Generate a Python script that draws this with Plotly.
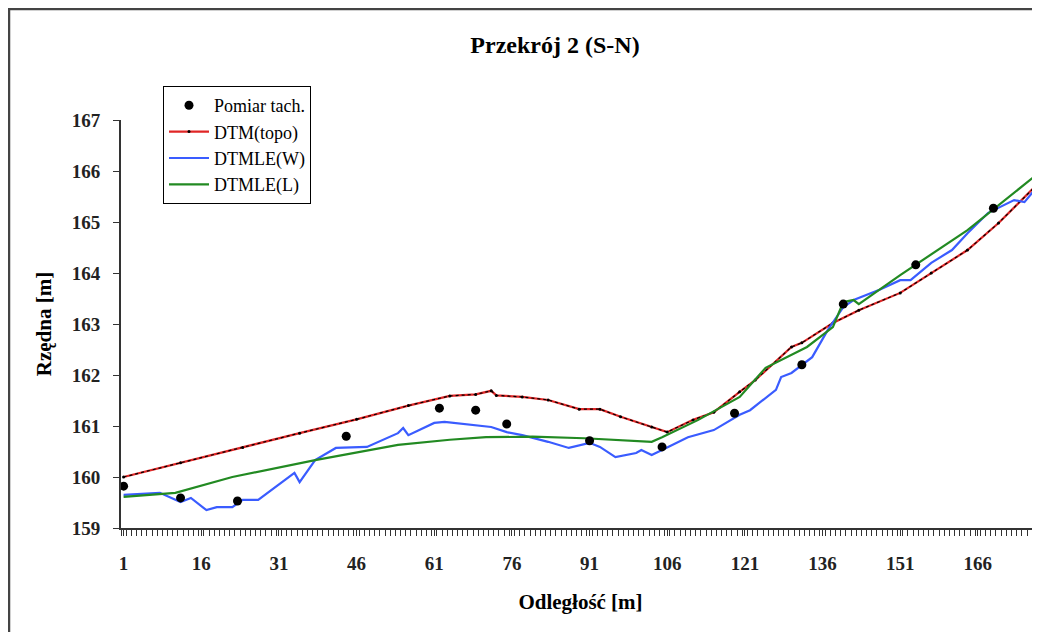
import plotly.graph_objects as go

# ---- data ----
meas_x = [1, 12, 23, 44, 62, 69, 75, 91, 105, 119, 132, 140, 154, 169]
meas_y = [159.82, 159.59, 159.53, 160.80, 161.35, 161.31, 161.04, 160.71, 160.59,
          161.25, 162.20, 163.39, 164.16, 165.27]

topo_x = [1, 12, 24, 35, 46, 56, 64, 69, 72, 73, 78, 83, 89, 93, 97, 103, 106,
          111, 115, 120, 123, 130, 132, 138, 143, 151, 157, 164, 170, 177, 178]
topo_y = [160.00, 160.28, 160.58, 160.86, 161.13, 161.40, 161.59, 161.62, 161.69,
          161.60, 161.57, 161.51, 161.33, 161.33, 161.18, 160.98, 160.88, 161.12,
          161.27, 161.67, 161.90, 162.55, 162.63, 163.02, 163.27, 163.61, 164.00,
          164.45, 164.98, 165.69, 165.86]

lew_x = [1, 8, 12, 14, 17, 19, 22, 24, 27, 34, 35, 38, 42, 48, 54, 55, 56, 61, 63,
         68, 72, 75, 78, 83, 87, 91, 93, 96, 100, 101, 103, 105, 110, 115, 120, 122,
         127, 128, 130, 134, 137, 140, 142, 147, 151, 153, 157, 161, 164, 168, 173,
         175, 178]
lew_y = [159.65, 159.69, 159.51, 159.59, 159.35, 159.41, 159.41, 159.55, 159.55,
         160.08, 159.90, 160.33, 160.57, 160.59, 160.86, 160.96, 160.82, 161.06,
         161.08, 161.02, 160.98, 160.88, 160.82, 160.69, 160.57, 160.67, 160.59,
         160.39, 160.47, 160.53, 160.43, 160.53, 160.78, 160.92, 161.22, 161.31,
         161.71, 161.96, 162.04, 162.35, 162.88, 163.33, 163.47, 163.67, 163.86,
         163.86, 164.20, 164.45, 164.78, 165.18, 165.43, 165.39, 165.76]

lel_x = [1, 7, 11, 22, 38, 54, 64, 71, 80, 90, 103, 105, 112, 120, 125, 133, 138,
         140, 142, 143, 151, 164, 178]
lel_y = [159.61, 159.66, 159.69, 160.00, 160.33, 160.63, 160.73, 160.78, 160.79,
         160.76, 160.69, 160.78, 161.12, 161.57, 162.14, 162.55, 162.94, 163.43,
         163.47, 163.39, 163.96, 164.84, 165.98]

x_ticks = [1, 16, 31, 46, 61, 76, 91, 106, 121, 136, 151, 166]
y_ticks = [159, 160, 161, 162, 163, 164, 165, 166, 167]

SERIF = "Liberation Serif"

fig = go.Figure()

fig.add_trace(go.Scatter(
    x=topo_x, y=topo_y, mode="lines+markers", name="DTM(topo)", legendrank=2,
    line=dict(color="#e02626", width=2.2),
    marker=dict(color="black", size=3, symbol="circle"),
))
fig.add_trace(go.Scatter(
    x=topo_x, y=topo_y, mode="lines", showlegend=False, hoverinfo="skip",
    line=dict(color="black", width=1.2, dash="dot"),
))
fig.add_trace(go.Scatter(
    x=lew_x, y=lew_y, mode="lines", name="DTMLE(W)", legendrank=3,
    line=dict(color="#3a5cff", width=2.2),
))
fig.add_trace(go.Scatter(
    x=lel_x, y=lel_y, mode="lines", name="DTMLE(L)", legendrank=4,
    line=dict(color="#228a22", width=2.2),
))
fig.add_trace(go.Scatter(
    x=meas_x, y=meas_y, mode="markers", name="Pomiar tach.", legendrank=1,
    marker=dict(color="black", size=9, symbol="circle"),
))

OFF = 8  # page body margin of the html page
W, H = 1040, 632
# plot area in page pixels: x 121..1040, y 120..528
L = 121 - OFF
T = 120 - OFF
R = OFF
B = H - (528 - OFF)
pw, ph = W - L - R, H - T - B


def px_x(p):
    return (p - OFF - L) / pw


def px_y(p):
    return ((H - B) - (p - OFF)) / ph


fig.update_layout(
    width=W, height=H,
    margin=dict(l=L, r=R, t=T, b=B, pad=0, autoexpand=False),
    paper_bgcolor="white", plot_bgcolor="white",
    font=dict(family=SERIF, color="black", size=15),
    title=dict(text="<b>Przekrój 2 (S-N)</b>", x=px_x(555), xref="paper",
               xanchor="center", y=1 - (45 - OFF) / H, yanchor="middle",
               font=dict(family=SERIF, size=24, color="black")),
    showlegend=True,
    legend=dict(
        x=px_x(163), y=px_y(86), xanchor="left", yanchor="top",
        bordercolor="black", borderwidth=1, bgcolor="white",
        font=dict(family=SERIF, size=18, color="black"),
        tracegroupgap=0, itemwidth=40,
        traceorder="normal",
    ),
    xaxis=dict(
        range=[0.5, 178], showgrid=False, zeroline=False, automargin=False,
        showline=True, linecolor="#333", linewidth=2,
        tickmode="array", tickvals=x_ticks,
        ticks="outside", ticklen=6, tickcolor="#333", tickwidth=1,
        ticklabelstandoff=11,
        tickfont=dict(family=SERIF, size=19, color="#222", weight="bold"),
        minor=dict(tickmode="linear", tick0=0.5, dtick=1, ticks="outside",
                   ticklen=6, tickcolor="#333", tickwidth=1, showgrid=False),
        title=dict(text="<b>Odległość [m]</b>", standoff=22,
                   font=dict(family=SERIF, size=21, color="black")),
    ),
    yaxis=dict(
        range=[159, 167], showgrid=False, zeroline=False, automargin=False,
        showline=True, linecolor="#333", linewidth=2,
        tickmode="array", tickvals=y_ticks,
        ticks="outside", ticklen=6, tickcolor="#333", tickwidth=1,
        ticklabelstandoff=9,
        tickfont=dict(family=SERIF, size=19, color="#222", weight="bold"),
        title=dict(text="<b>Rzędna [m]</b>", standoff=14,
                   font=dict(family=SERIF, size=21, color="black")),
    ),
    shapes=[dict(
        type="rect", xref="paper", yref="paper",
        x0=px_x(9), x1=px_x(1080), y0=px_y(680), y1=px_y(9),
        line=dict(color="#444", width=2.5), fillcolor="rgba(0,0,0,0)",
        layer="below",
    )],
)

fig.write_html("out.html")
